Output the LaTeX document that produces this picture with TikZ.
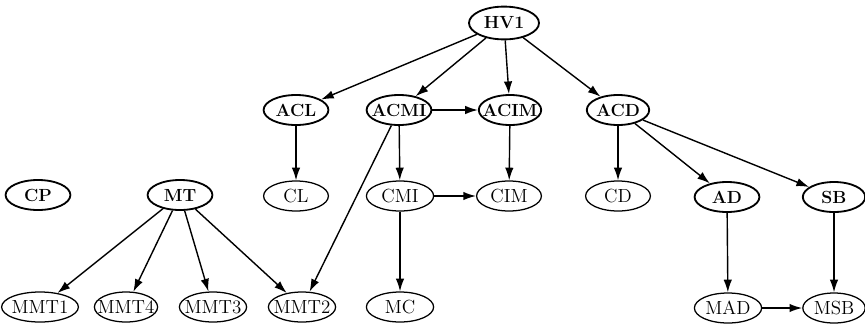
\documentclass[tikz,border=0pt]{standalone}
\usetikzlibrary{arrows.meta,shapes.geometric}

\begin{document}
\begin{tikzpicture}[>={Latex[length=9pt,width=6pt]}, x=0.025cm, y=-0.025cm,
  every node/.style={ellipse, draw, inner xsep=-12pt, inner ysep=0pt, minimum width=1.62cm, minimum height=0.75cm},
  strong/.style={font=\fontsize{12.5}{14}\selectfont\bfseries, line width=1.3pt},
  weak/.style={font=\fontsize{13.5}{15}\selectfont, line width=0.9pt},
  every path/.style={line width=1pt}]
  \useasboundingbox (0,0) rectangle (865,323);

  % --- fila superior ---
  \node[strong, minimum width=1.75cm, minimum height=0.82cm] (hv1) at (504,23) {HV1};

  % --- segunda fila ---
  \node[strong] (acl)  at (296,110) {ACL};
  \node[strong] (acmi) at (399,110) {ACMI};
  \node[strong, minimum width=1.56cm] (acim) at (510,110) {ACIM};
  \node[strong, minimum width=1.56cm] (acd)  at (618,110) {ACD};

  % --- tercera fila ---
  \node[strong] (cp)  at (38,195)  {CP};
  \node[strong] (mt)  at (180,195) {MT};
  \node[weak]   (cl)  at (296,196) {CL};
  \node[weak, minimum width=1.68cm] (cmi) at (400,196) {CMI};
  \node[weak]   (cim) at (509,196) {CIM};
  \node[weak]   (cd)  at (618,196) {CD};
  \node[strong] (ad)  at (727,197) {AD};
  \node[strong, minimum width=1.56cm] (sb)  at (834,197) {SB};

  % --- fila inferior ---
  \node[weak, minimum width=1.92cm] (mmt1) at (40,307)  {MMT1};
  \node[weak, minimum width=1.58cm] (mmt4) at (126,307) {MMT4};
  \node[weak, minimum width=1.68cm] (mmt3) at (213,307) {MMT3};
  \node[weak, minimum width=1.68cm] (mmt2) at (302,307) {MMT2};
  \node[weak, minimum width=1.68cm] (mc)   at (400,307) {MC};
  \node[weak, minimum width=1.68cm] (mad)  at (728,308) {MAD};
  \node[weak, minimum width=1.56cm] (msb)  at (834,308) {MSB};

  % --- aristas ---
  \foreach \t in {acl,acmi,acim,acd}
    \draw[->] (hv1) -- (\t);
  \draw[->] (acmi) -- (acim);
  \draw[->] (acl) -- (cl);
  \draw[->] (acmi) -- (cmi);
  \draw[->] (acmi) -- (mmt2);
  \draw[->] (acim) -- (cim);
  \draw[->] (cmi) -- (cim);
  \draw[->] (cmi) -- (mc);
  \foreach \t in {cd,ad,sb}
    \draw[->] (acd) -- (\t);
  \draw[->] (ad) -- (mad);
  \draw[->] (sb) -- (msb);
  \draw[->] (mad) -- (msb);
  \foreach \t in {mmt1,mmt4,mmt3,mmt2}
    \draw[->] (mt) -- (\t);
\end{tikzpicture}
\end{document}
